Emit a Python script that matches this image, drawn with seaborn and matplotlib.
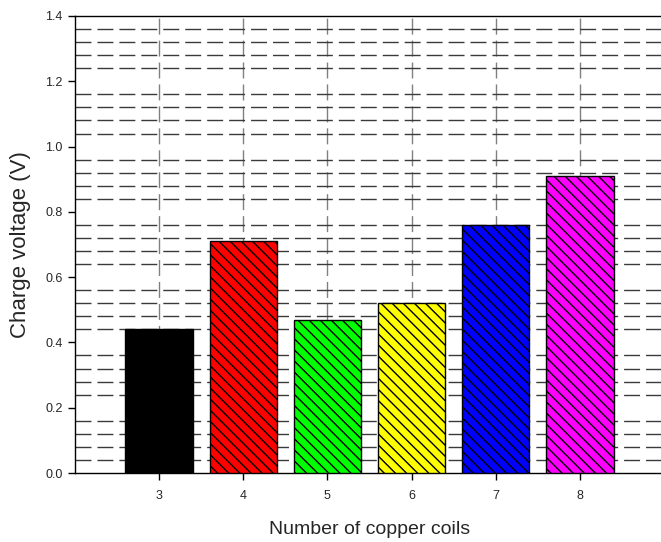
import matplotlib
matplotlib.use("Agg")
import matplotlib.pyplot as plt
from matplotlib.ticker import MultipleLocator, FormatStrFormatter
import seaborn as sns
import pandas as pd

coils = ["3", "4", "5", "6", "7", "8"]
voltage = [0.44, 0.71, 0.47, 0.52, 0.76, 0.91]
bar_colors = ["#000000", "#ff0000", "#00ff00", "#ffff00", "#0000ff", "#ff00ff"]

sns.set_style("white")
plt.rcParams["font.family"] = ["Liberation Sans", "DejaVu Sans"]
plt.rcParams["hatch.linewidth"] = 1.0

df = pd.DataFrame({"coils": coils, "voltage": voltage})

fig = plt.figure(figsize=(6.61, 5.42), dpi=100)
ax = fig.add_axes([75 / 661, 69 / 542, 589 / 661, 457 / 542])

sns.barplot(data=df, x="coils", y="voltage", hue="coils", order=coils,
            palette=bar_colors, legend=False, width=0.8,
            edgecolor="black", linewidth=1.0, saturation=1, ax=ax)
for patch in ax.patches:
    patch.set_hatch("\\\\\\")
    patch.set_zorder(3)

ax.set_xlim(-1, 6)
ax.set_ylim(0, 1.4)
ax.yaxis.set_major_locator(MultipleLocator(0.2))
ax.yaxis.set_minor_locator(MultipleLocator(0.04))
ax.yaxis.set_major_formatter(FormatStrFormatter("%.1f"))

ax.set_axisbelow(True)
ax.grid(False)
ax.grid(which="minor", axis="y", color="#3a3a3a", linewidth=1.0,
        linestyle=(0, (11.5, 4.3)))
ax.grid(which="major", axis="x", color="#808080", linewidth=1.0,
        linestyle=(0, (11.5, 4.3)))

for side in ["left", "bottom", "top"]:
    ax.spines[side].set_visible(True)
    ax.spines[side].set_color("black")
    ax.spines[side].set_linewidth(1.0)
ax.spines["right"].set_visible(False)

ax.tick_params(axis="both", which="major", direction="out", length=5,
               width=1, color="black", labelsize=9, pad=4,
               left=True, bottom=True)
ax.tick_params(axis="y", which="minor", length=0)
ax.tick_params(axis="x", pad=7)

ax.set_xlabel("Number of copper coils", fontsize=14, labelpad=14)
ax.set_ylabel("Charge voltage (V)", fontsize=16, labelpad=10)

fig.savefig("out.png", dpi=100)
